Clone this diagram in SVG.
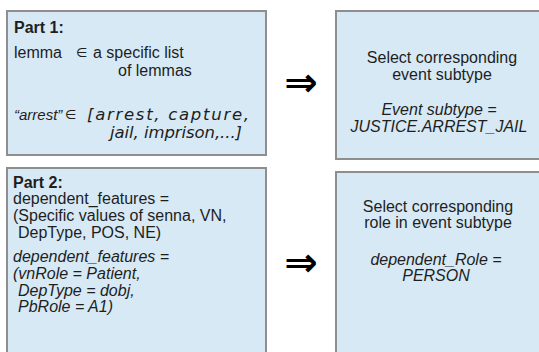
<svg xmlns="http://www.w3.org/2000/svg" width="539" height="352" viewBox="0 0 539 352">
<style>
.box{fill:#d7e9f5;stroke:#8e8e8e;stroke-width:2}
text{font-family:"Liberation Sans",Arial,sans-serif;font-size:16px;fill:#1e1e1e}
.b{font-weight:bold}
.i{font-style:italic}
.s15{font-size:15px}
.el{font-family:"DejaVu Sans",sans-serif;font-size:13px}
.dv{font-family:"DejaVu Sans",sans-serif;font-style:italic;font-size:16.5px}
.c{text-anchor:middle}
.arr{font-family:"DejaVu Sans",sans-serif;font-size:40px;font-weight:bold;fill:#000;text-anchor:middle}
</style>
<rect width="539" height="352" fill="#fff"/>
<g id="part1">
<rect class="box" x="7" y="11" width="259" height="144"/>
<text class="b" x="14" y="33">Part 1:</text>
<text x="14" y="58">lemma</text>
<text class="el" x="76" y="57">∈</text>
<text x="93" y="58">a specific list</text>
<text x="118" y="76">of lemmas</text>
<text class="i s15" x="14" y="120">“arrest”</text>
<text class="el" x="65" y="119">∈</text>
<text class="dv" x="87" y="120" textLength="162" lengthAdjust="spacing">[arrest, capture,</text>
<text class="dv" x="110" y="138" textLength="132" lengthAdjust="spacing">jail, imprison,...]</text>
</g>
<g id="part2">
<rect class="box" x="7" y="168" width="259" height="200"/>
<text class="b" x="13" y="188">Part 2:</text>
<text x="13" y="204">dependent_features =</text>
<text x="13" y="221">(Specific values of senna, VN,</text>
<text x="18" y="238">DepType, POS, NE)</text>
<text class="i" x="13" y="262">dependent_features =</text>
<text class="i" x="13" y="279">(vnRole = Patient,</text>
<text class="i" x="18" y="296">DepType = dobj,</text>
<text class="i" x="18" y="312">PbRole = A1)</text>
</g>
<g id="result1">
<rect class="box" x="336" y="11" width="215" height="148"/>
<text class="c" x="442" y="63">Select corresponding</text>
<text class="c" x="442" y="80">event subtype</text>
<text class="c i" x="439" y="115">Event subtype =</text>
<text class="c i" x="439" y="132">JUSTICE.ARREST_JAIL</text>
</g>
<g id="result2">
<rect class="box" x="336" y="172" width="215" height="200"/>
<text class="c" x="438" y="212">Select corresponding</text>
<text class="c" x="438" y="228">role in event subtype</text>
<text class="c i" x="436" y="265">dependent_Role =</text>
<text class="c i" x="436" y="281">PERSON</text>
</g>
<g id="connectors">
<text class="arr" x="301" y="96">⇒</text>
<text class="arr" x="301" y="276">⇒</text>
</g>
</svg>
